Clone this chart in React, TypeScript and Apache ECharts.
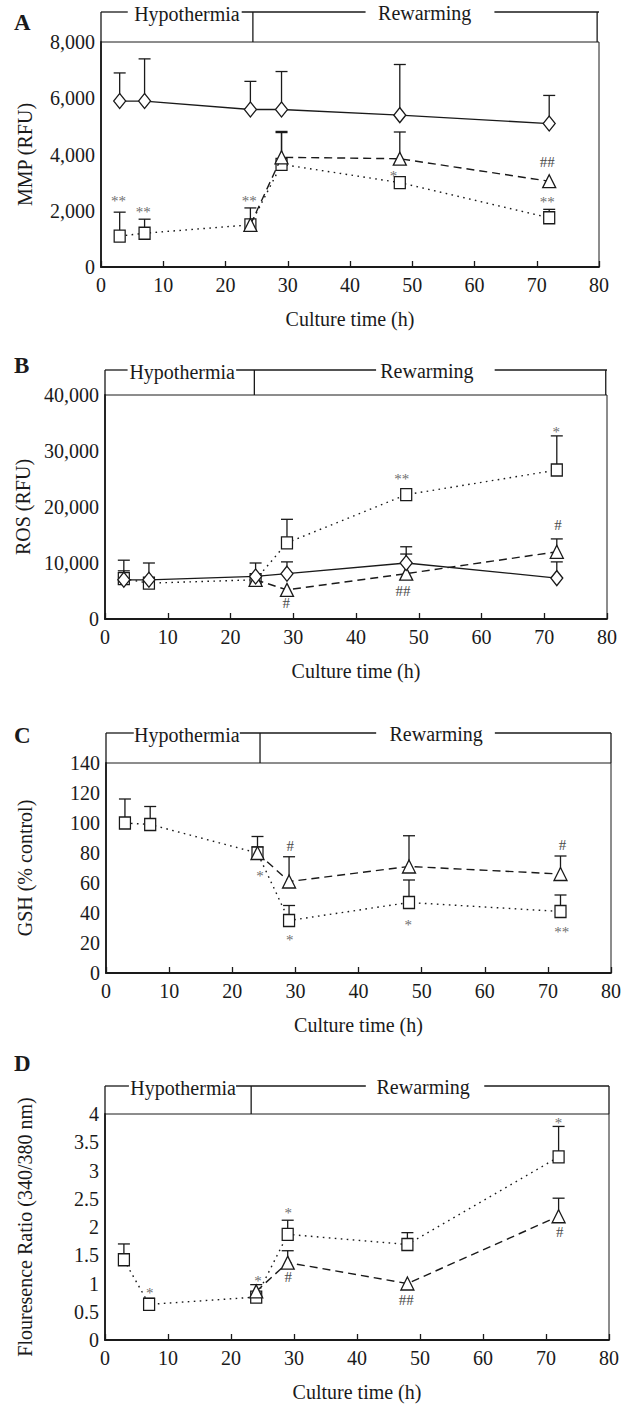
import React, { useEffect, useRef } from "react";
import * as echarts from "echarts";

const FONT = '"Liberation Serif", "Times New Roman", Times, serif';
const INK = "#1a1a1a";
const STAR = "#6f6f6f";
const HASH = "#4a4a4a";

// ---------- shared categories ----------
const TIMES = [3, 7, 24, 29, 48, 72];
const TIMES_LATE = [24, 29, 48, 72];
const X_MIN = 0;
const X_MAX = 80;
const X_STEP = 10;
const HEADER_LEFT = "Hypothermia";
const HEADER_RIGHT = "Rewarming";
const X_TITLE = "Culture time (h)";

// ---------- A : MMP ----------
const mmpDiamond = [5900, 5900, 5600, 5600, 5400, 5100];
const mmpDiamondTop = [6900, 7400, 6600, 6950, 7200, 6100];
const mmpSquare = [1100, 1200, 1500, 3650, 3000, 1750];
const mmpSquareTop = [1950, 1700, 2100, 4780, null, 2050];
const mmpTriangle = [1500, 3900, 3850, 3050];
const mmpTriangleTop = [null, 4820, 4800, null];
const mmpNotes: [number, number, string][] = [
  [2.8, 2450, "**"], [6.8, 2080, "**"], [23.8, 2450, "**"],
  [47, 3330, "*"], [71.7, 2430, "**"], [71.7, 3730, "##"],
];

// ---------- B : ROS ----------
const rosDiamond = [7000, 7000, 7600, 8100, 10000, 7300];
const rosDiamondTop = [10500, 10000, 10000, 10200, 12900, 10200];
const rosSquare = [7200, 6400, 7000, 13600, 22200, 26600];
const rosSquareTop = [8600, null, null, 17800, null, 32700];
const rosTriangle = [7000, 5200, 8100, 12000];
const rosTriangleTop = [null, null, 11600, 14300];
const rosNotes: [number, number, string][] = [
  [47.3, 25500, "**"], [71.9, 34000, "*"], [72.2, 16800, "#"],
  [28.9, 2900, "#"], [47.5, 5000, "##"],
];

// ---------- C : GSH ----------
const gshSquare = [100, 99, 80, 35, 47, 41];
const gshSquareTop = [116, 111, 84, 45, 62, 52];
const gshTriangle = [80, 61, 71, 66];
const gshTriangleTop = [91, 77.5, 91.5, 78];
const gshNotes: [number, number, string][] = [
  [24.4, 67, "*"], [29.2, 84.7, "#"], [29.1, 23.8, "*"],
  [47.9, 34.2, "*"], [72.2, 29.1, "**"], [72.3, 85.3, "#"],
];

// ---------- D : Fluorescence ratio ----------
const fluoSquare = [1.42, 0.63, 0.76, 1.87, 1.69, 3.24];
const fluoSquareTop = [1.7, 0.74, null, 2.12, 1.9, 3.78];
const fluoTriangle = [0.86, 1.37, 1.0, 2.19];
const fluoTriangleTop = [0.98, 1.58, null, 2.51];
const fluoNotes: [number, number, string][] = [
  [7.1, 0.88, "*"], [24.3, 1.09, "*"], [29.1, 1.11, "#"], [47.8, 0.71, "##"],
  [29.1, 2.3, "*"], [72, 3.9, "*"], [72.2, 1.91, "#"],
];

type Panel = {
  letter: string;
  yName: string;
  yMax: number;
  yStep: number;
  comma: boolean;
  diamond?: number[];
  diamondTop?: (number | null)[];
  square: number[];
  squareTop: (number | null)[];
  triangle: number[];
  triangleTop: (number | null)[];
  notes: [number, number, string][];
};

const panels: Panel[] = [
  { letter: "A", yName: "MMP (RFU)", yMax: 8000, yStep: 2000, comma: true,
    diamond: mmpDiamond, diamondTop: mmpDiamondTop, square: mmpSquare, squareTop: mmpSquareTop,
    triangle: mmpTriangle, triangleTop: mmpTriangleTop, notes: mmpNotes },
  { letter: "B", yName: "ROS (RFU)", yMax: 40000, yStep: 10000, comma: true,
    diamond: rosDiamond, diamondTop: rosDiamondTop, square: rosSquare, squareTop: rosSquareTop,
    triangle: rosTriangle, triangleTop: rosTriangleTop, notes: rosNotes },
  { letter: "C", yName: "GSH (% control)", yMax: 140, yStep: 20, comma: false,
    square: gshSquare, squareTop: gshSquareTop, triangle: gshTriangle, triangleTop: gshTriangleTop, notes: gshNotes },
  { letter: "D", yName: "Flouresence Ratio (340/380 nm)", yMax: 4, yStep: 0.5, comma: false,
    square: fluoSquare, squareTop: fluoSquareTop, triangle: fluoTriangle, triangleTop: fluoTriangleTop, notes: fluoNotes },
];

// ---------- layout (pixels / hour positions of the bracket) ----------
const layouts = [
  { left: 101, top: 42, width: 498, height: 225, nameGap: 66, letterTop: 11, rise: 30,
    segs: [[0, 4.3], [22.6, 42.5], [63.2, 80]], mid: 24.4, right: 79.7, hypo: 13.8, rew: 52 },
  { left: 105, top: 395, width: 502, height: 224, nameGap: 70, letterTop: 354, rise: 25,
    segs: [[0, 3.6], [20.9, 43.2], [62.1, 80]], mid: 23.8, right: 79.8, hypo: 12.3, rew: 51.3 },
  { left: 106, top: 763, width: 505, height: 210, nameGap: 71, letterTop: 724, rise: 30,
    segs: [[0, 4.4], [21.2, 42.8], [61.6, 80]], mid: 24.4, right: 80, hypo: 12.8, rew: 52.3 },
  { left: 105, top: 1114, width: 504, height: 226, nameGap: 70, letterTop: 1052, rise: 28,
    segs: [[0, 3.8], [20.8, 41.4], [60.2, 80]], mid: 23.2, right: 80, hypo: 12.4, rew: 50.5 },
];

function errorData(xs: number[], ys: number[], tops: (number | null)[]) {
  const out: number[][] = [];
  xs.forEach((x, i) => {
    const t = tops[i];
    if (t != null) out.push([x, ys[i], t]);
  });
  return out;
}

function renderError(_params: any, api: any) {
  const x = api.value(0);
  const a = api.coord([x, api.value(1)]);
  const b = api.coord([x, api.value(2)]);
  const half = 6;
  const style = { stroke: INK, lineWidth: 1.3, fill: null };
  return {
    type: "group",
    children: [
      { type: "line", shape: { x1: a[0], y1: a[1], x2: b[0], y2: b[1] }, style },
      { type: "line", shape: { x1: b[0] - half, y1: b[1], x2: b[0] + half, y2: b[1] }, style },
    ],
  };
}

function buildOption() {
  const grid: any[] = [];
  const xAxis: any[] = [];
  const yAxis: any[] = [];
  const series: any[] = [];
  const graphic: any[] = [];

  panels.forEach((p, i) => {
    const L = layouts[i];
    grid.push({
      left: L.left, top: L.top, width: L.width, height: L.height,
      containLabel: false, outerBoundsMode: "none",
      show: true, borderColor: INK, borderWidth: 1, backgroundColor: "transparent",
    });
    xAxis.push({
      gridIndex: i, type: "value", min: X_MIN, max: X_MAX, interval: X_STEP,
      name: X_TITLE, nameLocation: "middle", nameGap: 42,
      nameTextStyle: { fontFamily: FONT, fontSize: 20, color: INK },
      axisLine: { show: true, onZero: false, lineStyle: { color: INK, width: 1.8 } },
      axisTick: { show: true, inside: true, length: 6, lineStyle: { color: INK, width: 1.3 } },
      axisLabel: { fontFamily: FONT, fontSize: 20, color: INK, margin: 8 },
      splitLine: { show: false },
    });
    yAxis.push({
      gridIndex: i, type: "value", min: 0, max: p.yMax, interval: p.yStep,
      name: p.yName, nameLocation: "middle", nameRotate: 90, nameGap: L.nameGap,
      nameTextStyle: { fontFamily: FONT, fontSize: 20, color: INK },
      axisLine: { show: true, onZero: false, lineStyle: { color: INK, width: 1.8 } },
      axisTick: { show: false },
      axisLabel: {
        fontFamily: FONT, fontSize: 20, color: INK, margin: 6,
        formatter: (v: number) => (p.comma ? v.toLocaleString("en-US") : String(v)),
      },
      splitLine: { show: false },
    });

    // error bars
    let eb: number[][] = [];
    if (p.diamond && p.diamondTop) eb = eb.concat(errorData(TIMES, p.diamond, p.diamondTop));
    eb = eb.concat(errorData(TIMES, p.square, p.squareTop));
    eb = eb.concat(errorData(TIMES_LATE, p.triangle, p.triangleTop));
    series.push({
      type: "custom", xAxisIndex: i, yAxisIndex: i, z: 1, silent: true,
      renderItem: renderError, data: eb,
    });

    const markerStyle = { color: "#ffffff", borderColor: INK, borderWidth: 1.3 };
    series.push({
      type: "line", xAxisIndex: i, yAxisIndex: i, z: 2,
      data: TIMES.map((t, k) => [t, p.square[k]]),
      symbol: "rect", symbolSize: [11, 12], showAllSymbol: true,
      lineStyle: { color: INK, width: 1.4, type: [1.6, 4.4] },
      itemStyle: markerStyle,
    });
    series.push({
      type: "line", xAxisIndex: i, yAxisIndex: i, z: 3,
      data: TIMES_LATE.map((t, k) => [t, p.triangle[k]]),
      symbol: "triangle", symbolSize: [13, 13], showAllSymbol: true,
      lineStyle: { color: INK, width: 1.4, type: [8, 5] },
      itemStyle: markerStyle,
    });
    if (p.diamond) {
      series.push({
        type: "line", xAxisIndex: i, yAxisIndex: i, z: 4,
        data: TIMES.map((t, k) => [t, p.diamond![k]]),
        symbol: "diamond", symbolSize: [12, 15], showAllSymbol: true,
        lineStyle: { color: INK, width: 1.3, type: "solid" },
        itemStyle: markerStyle,
      });
    }

    // significance notes
    const notes = p.notes;
    series.push({
      type: "custom", xAxisIndex: i, yAxisIndex: i, z: 5, silent: true,
      data: notes.map((n) => [n[0], n[1]]),
      renderItem: (params: any, api: any) => {
        const n = notes[params.dataIndex];
        const pt = api.coord([api.value(0), api.value(1)]);
        const star = n[2].indexOf("*") >= 0;
        return {
          type: "text",
          x: pt[0], y: pt[1] + (star ? 3 : 0),
          style: {
            text: n[2], fill: star ? STAR : HASH,
            fontFamily: FONT, fontSize: star ? 15 : 15,
            align: "center", verticalAlign: "middle",
          },
        };
      },
    });

    // bracket header
    series.push({
      type: "custom", xAxisIndex: i, yAxisIndex: i, z: 5, silent: true, clip: false,
      data: [[0, p.yMax]],
      renderItem: (_params: any, api: any) => {
        const c = (x: number) => api.coord([x, p.yMax]);
        const y0 = c(0)[1];
        const yT = y0 - L.rise;
        const style = { stroke: INK, lineWidth: 1.3, fill: null };
        const children: any[] = [];
        [0, L.mid, L.right].forEach((xv) => {
          const q = c(xv);
          children.push({ type: "line", shape: { x1: q[0], y1: yT, x2: q[0], y2: y0 }, style });
        });
        L.segs.forEach((s) => {
          children.push({ type: "line", shape: { x1: c(s[0])[0], y1: yT, x2: c(s[1])[0], y2: yT }, style });
        });
        children.push({
          type: "text", x: c(L.hypo)[0], y: yT + 2,
          style: { text: HEADER_LEFT, fill: INK, fontFamily: FONT, fontSize: 20, align: "center", verticalAlign: "middle" },
        });
        children.push({
          type: "text", x: c(L.rew)[0], y: yT + 1,
          style: { text: HEADER_RIGHT, fill: INK, fontFamily: FONT, fontSize: 20, align: "center", verticalAlign: "middle" },
        });
        return { type: "group", children };
      },
    });

    graphic.push({
      type: "text", left: 14, top: L.letterTop,
      style: { text: p.letter, fill: INK, font: `bold 23px ${FONT}` },
    });
  });

  return {
    animation: false,
    backgroundColor: "#ffffff",
    grid, xAxis, yAxis, series, graphic,
  };
}

export default function App() {
  const ref = useRef<HTMLDivElement>(null);
  useEffect(() => {
    if (!ref.current) return;
    const chart = echarts.init(ref.current, null, { renderer: "svg" });
    chart.setOption(buildOption() as any);
    return () => chart.dispose();
  }, []);
  return (
    <div
      ref={ref}
      style={{ position: "absolute", left: 0, top: 0, width: 627, height: 1404, background: "#fff" }}
    />
  );
}
